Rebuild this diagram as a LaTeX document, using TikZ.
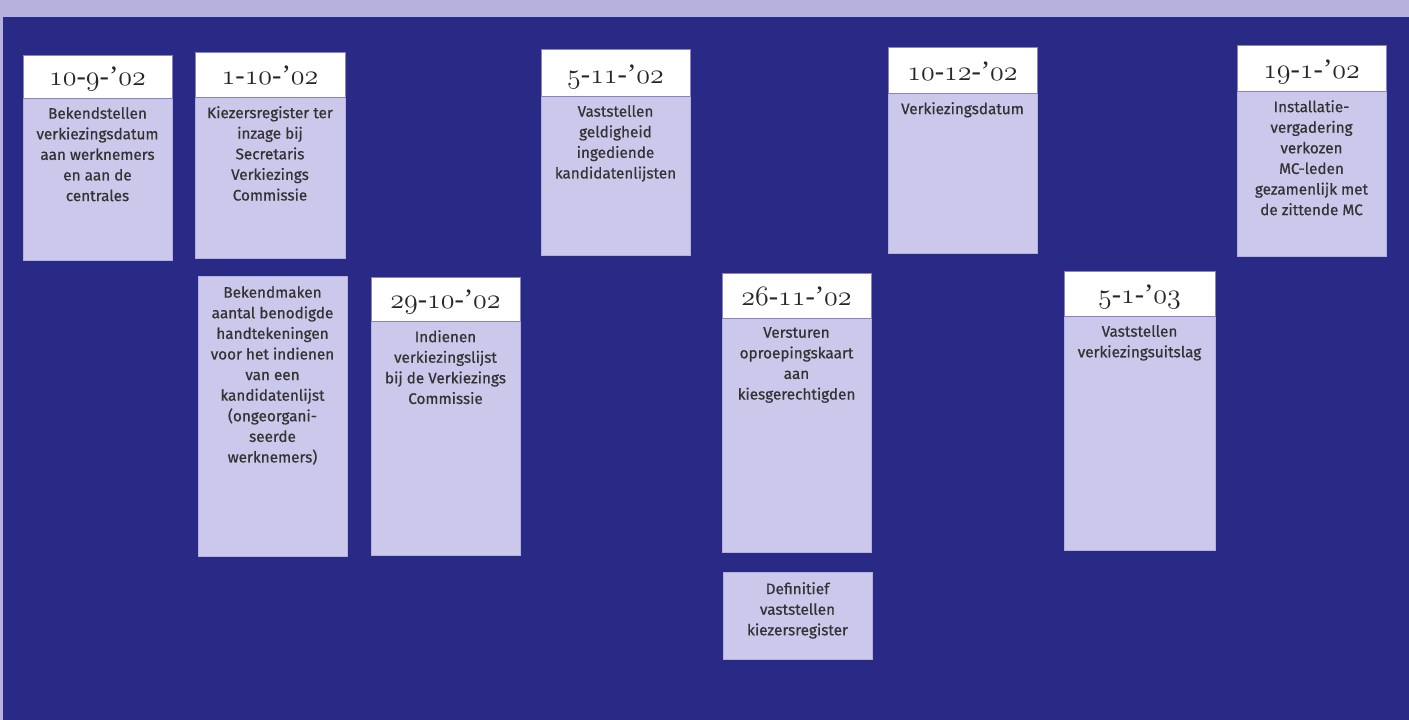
\documentclass[tikz,border=0pt]{standalone}
\usepackage{fontspec}
\setmainfont{Fira Sans}[FakeBold=0.6]
\newfontfamily\hdrfont{Liberation Serif}
\DeclareFontFamily{OML}{myosf}{}
\DeclareFontShape{OML}{myosf}{m}{it}{<->cmmi12}{}
\newcommand{\osf}[1]{{\usefont{OML}{myosf}{m}{it}#1}}
\newcommand{\dt}[3]{\osf{#1}{\hdrfont-}\osf{#2}{\hdrfont-}{\hdrfont’}\osf{#3}}
\definecolor{navy}{HTML}{282A85}
\definecolor{lav}{HTML}{B7B2DD}
\definecolor{boxfill}{HTML}{CBC8EC}
\definecolor{hdrline}{HTML}{8A82C4}
\definecolor{txt}{HTML}{333333}
\begin{document}
\begin{tikzpicture}[x=1pt,y=-1pt,
  bodybox/.style={fill=boxfill,draw=boxfill!85!navy,line width=0.6pt},
  hdrbox/.style={fill=white,draw=hdrline,line width=1pt},
  hdrtext/.style={font=\fontsize{28}{30}\selectfont,text=black!85,anchor=base},
  bodytext/.style={font=\fontsize{15.3}{20.6}\selectfont,text=txt,align=center,anchor=north,inner sep=0pt}]
\useasboundingbox (0,0) rectangle (1409,720);
\fill[lav] (0,0) rectangle (1409,720);
\fill[navy] (3,17) rectangle (1409,720);
\foreach \n/\xa/\xb/\ya/\yb/\yc in {a/23/172/55/98/260, b/195/345/52/97/258, c/541/690/49/96/255, d/888/1037/47/93/253, e/1237/1386/45/91/256, g/371/520/277/321/555, h/722/871/273/318/552, j/1064/1215/271/316/550}{
  \path[bodybox] (\xa,\yb) rectangle (\xb,\yc);
  \path[hdrbox] (\xa,\ya) rectangle (\xb,\yb);
  \coordinate (\n h) at ({(\xa+\xb)/2},{\yb-13});
  \coordinate (\n t) at ({(\xa+\xb)/2},{\yb+9});
}
\path[bodybox] (198,276) rectangle (347,556);
\path[bodybox] (723,572) rectangle (872,659);
\coordinate (ft) at (272.5,286);
\coordinate (it) at (797.5,582);
% headers
\node[hdrtext] (ah) at (ah) {\dt{10}{9}{02}};
\node[hdrtext] (bh) at (bh) {\dt{1}{10}{02}};
\node[hdrtext] (ch) at (ch) {\dt{5}{11}{02}};
\node[hdrtext] (dh) at (dh) {\dt{10}{12}{02}};
\node[hdrtext] (eh) at (eh) {\dt{19}{1}{02}};
\node[hdrtext] (gh) at (gh) {\dt{29}{10}{02}};
\node[hdrtext] (hh) at (hh) {\dt{26}{11}{02}};
\node[hdrtext] (jh) at (jh) {\dt{5}{1}{03}};
% body texts
\node[bodytext] (a) at (at) {Bekendstellen\\verkiezingsdatum\\aan werknemers\\en aan de\\centrales};
\node[bodytext] (b) at (bt) {Kiezersregister ter\\inzage bij\\Secretaris\\Verkiezings\\Commissie};
\node[bodytext] (c) at (ct) {Vaststellen\\geldigheid\\ingediende\\kandidatenlijsten};
\node[bodytext] (d) at (dt) {Verkiezingsdatum};
\node[bodytext] (e) at (et) {Installatie-\\vergadering\\verkozen\\MC-leden\\gezamenlijk met\\de zittende MC};
\node[bodytext] (f) at (ft) {Bekendmaken\\aantal benodigde\\handtekeningen\\voor het indienen\\van een\\kandidatenlijst\\(ongeorgani-\\seerde\\werknemers)};
\node[bodytext] (g) at (gt) {Indienen\\verkiezingslijst\\bij de Verkiezings\\Commissie};
\node[bodytext] (h) at (ht) {Versturen\\oproepingskaart\\aan\\kiesgerechtigden};
\node[bodytext] (i) at (it) {Definitief\\vaststellen\\kiezersregister};
\node[bodytext] (j) at (jt) {Vaststellen\\verkiezingsuitslag};
\end{tikzpicture}
\end{document}
